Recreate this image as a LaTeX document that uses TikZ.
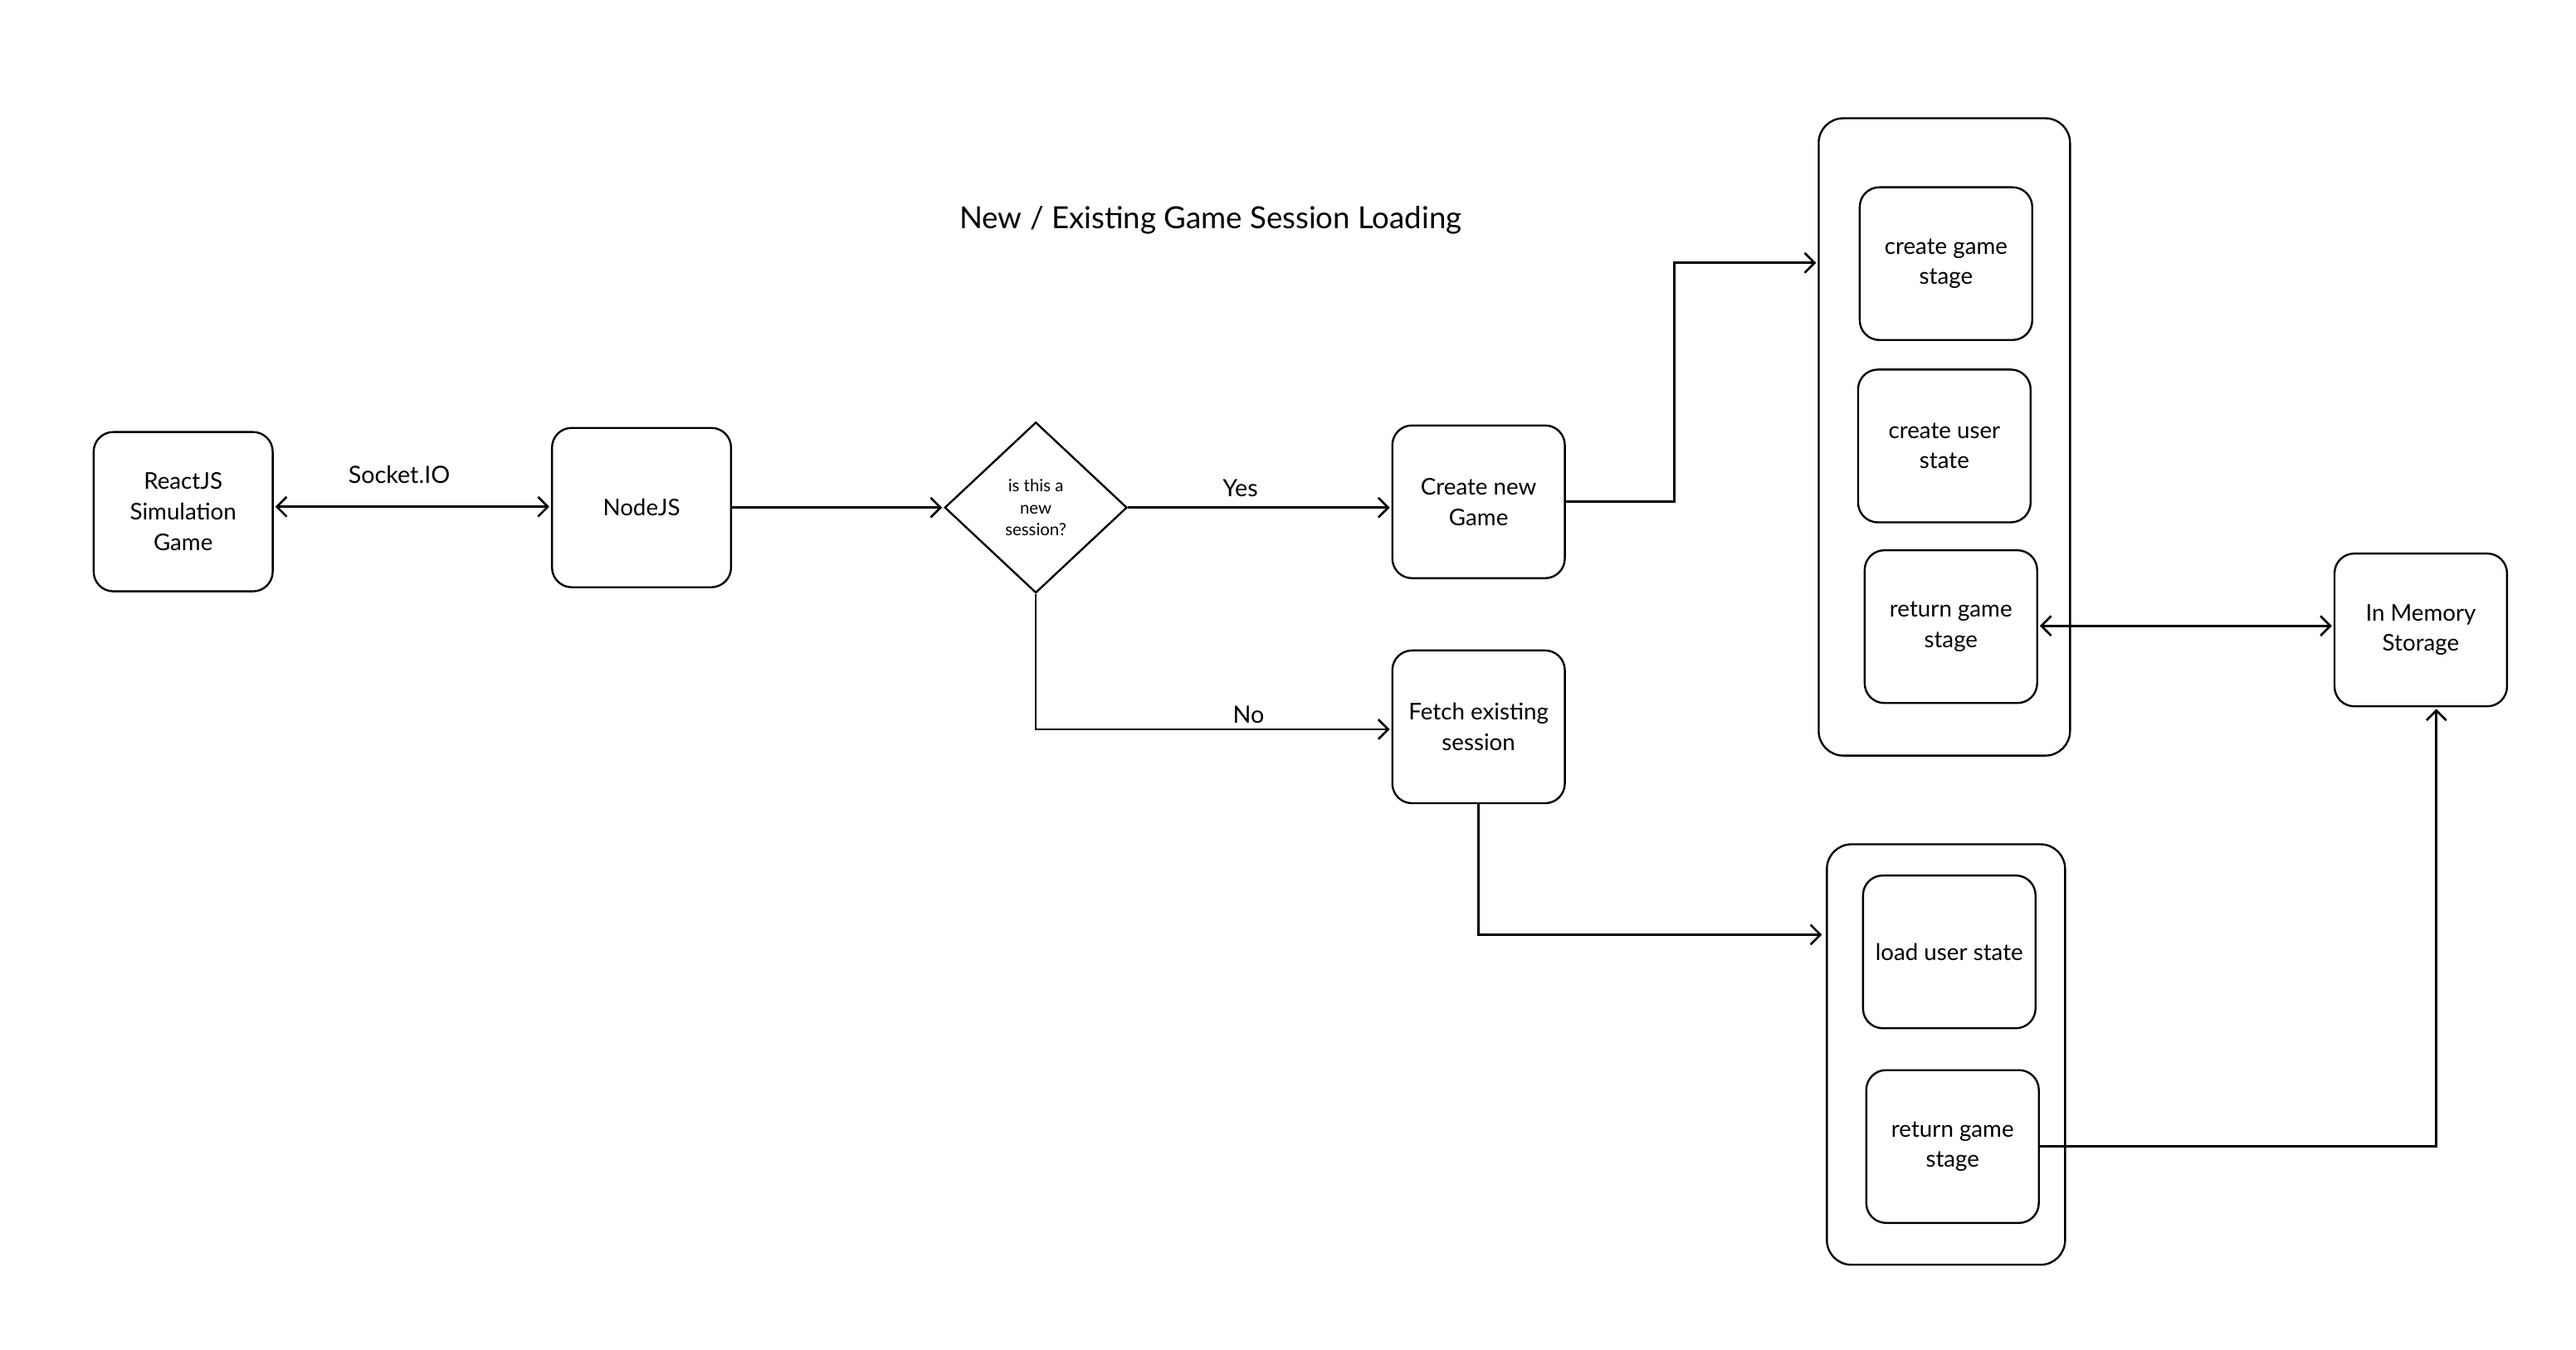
\documentclass[tikz,border=0pt]{standalone}
\usepackage{fontspec}
\setmainfont{Lato}
\usetikzlibrary{shapes.geometric}
\usetikzlibrary{arrows.meta}

\tikzset{
  stepbox/.style={draw, rounded corners=12pt, line width=1.2pt, minimum width=105pt, minimum height=93pt, align=center, font=\fontsize{14}{18.5}\selectfont},
  groupbox/.style={draw, rounded corners=15pt, line width=1.2pt},
  querybox/.style={draw, diamond, line width=1.2pt, minimum width=111pt, minimum height=104pt, inner sep=0pt, align=center, font=\fontsize{10.3}{13.5}\selectfont},
  flow/.style={line width=1.3pt, -{Straight Barb[length=6pt,width=12pt]}, shorten >=1pt},
  lbl/.style={font=\fontsize{14.5}{16}\selectfont}
}

\begin{document}
\begin{tikzpicture}[x=1pt, y=-1pt]
  \useasboundingbox (0,0) rectangle (1568,821.4);

  % title
  \node[font=\fontsize{18.5}{22}\selectfont] (title) at (737,134) {New / Existing Game Session Loading};

  % left side of the flow
  \node[stepbox, minimum width=109pt, minimum height=97pt] (react) at (111.5,311.5) {ReactJS\\Simulation\\Game};
  \node[stepbox, minimum width=109pt, minimum height=97pt] (nodejs) at (390.5,309) {NodeJS};
  \node[querybox] (query) at (630.5,309) {is this a\\new\\session?};
  \node[stepbox] (newgame) at (900,305.5) {Create new\\Game};
  \node[stepbox] (fetch) at (900,442.5) {Fetch existing\\session};

  % new game group
  \node[groupbox, minimum width=153pt, minimum height=388pt] (cont1) at (1183.5,266) {};
  \node[stepbox] (mkstage) at (1184.5,160.5) {create game\\stage};
  \node[stepbox] (mkuser) at (1183.5,271.5) {create user\\state};
  \node[stepbox] (retnew) at (1187.5,381.5) {return game\\stage};

  % existing session group
  \node[groupbox, minimum width=145pt, minimum height=256pt] (cont2) at (1184.5,642) {};
  \node[stepbox] (loaduser) at (1186.5,579.5) {load user state};
  \node[stepbox] (retold) at (1188.5,698) {return game\\stage};

  \node[stepbox] (memory) at (1473.5,383.5) {In Memory\\Storage};

  % connectors
  \draw[flow, {Straight Barb[length=6pt,width=12pt]}-{Straight Barb[length=6pt,width=12pt]}, shorten <=1pt]
    ([yshift=3pt]react.east) -- ([yshift=3pt]react.east -| nodejs.west);
  \node[lbl] (socket) at (243,289) {Socket.IO};
  \draw[flow] (nodejs.east) -- (query.west);
  \draw[flow] (query.east) -- (query.east -| newgame.west);
  \node[lbl] (yes) at (755,297) {Yes};
  \draw[flow] (query.south) |- ([yshift=-1.5pt]fetch.west);
  \node[lbl] (no) at (760,435) {No};

  \coordinate (jog) at (1019,160);
  \draw[flow] (newgame.east) -| (jog) -- (jog -| cont1.west);
  \coordinate (loadin) at (1110,569);
  \draw[flow] (fetch.south) |- (loadin);

  \draw[flow, {Straight Barb[length=6pt,width=12pt]}-{Straight Barb[length=6pt,width=12pt]}, shorten <=1pt]
    ([yshift=0.5pt]retnew.east) -- ([yshift=0.5pt]retnew.east -| memory.west);
  \draw[flow] (retold.east) -| ([xshift=9.5pt]memory.south);
\end{tikzpicture}
\end{document}
